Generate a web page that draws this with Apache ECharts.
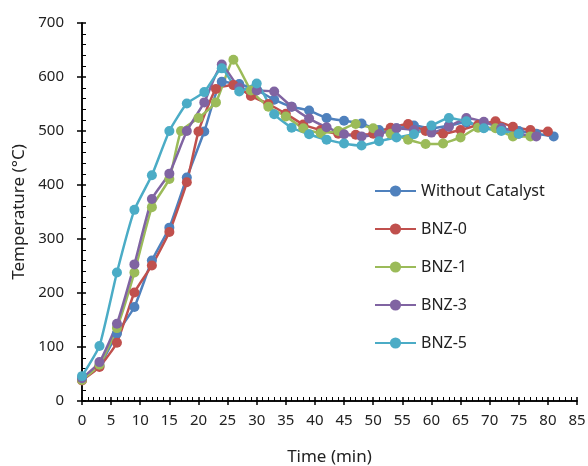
<!DOCTYPE html>
<html>
<head>
<meta charset="utf-8">
<script src="https://cdn.jsdelivr.net/npm/echarts@6/dist/echarts.min.js"></script>
<style>
  html, body { margin: 0; padding: 0; background: #fff; }
  #main { width: 588px; height: 466px; }
</style>
</head>
<body>
<div id="main"></div>
<script>
// time (min) per series
var tWithout = [0, 3, 6, 9, 12, 15, 18, 21, 24, 27, 30, 33, 36, 39, 42, 45, 48, 51, 54, 57, 60, 63, 66, 69, 72, 75, 78, 81];
var vWithout = [40, 65, 125, 174, 260, 321, 414, 499, 591, 587, 576, 558, 545, 538, 524, 519, 514, 502, 505, 510, 505, 510, 516, 506, 505, 500, 495, 490];

var tBNZ0 = [0, 3, 6, 9, 12, 15, 18, 20, 23, 26, 29, 32, 35, 38, 41, 44, 47, 50, 53, 56, 59, 62, 65, 68, 71, 74, 77, 80];
var vBNZ0 = [38, 63, 108, 201, 251, 313, 405, 499, 578, 585, 565, 550, 532, 512, 502, 495, 493, 495, 506, 513, 500, 495, 502, 511, 518, 508, 502, 499];

var tBNZ1 = [0, 3, 6, 9, 12, 15, 17, 20, 23, 26, 29, 32, 35, 38, 41, 44, 47, 50, 53, 56, 59, 62, 65, 68, 71, 74, 77];
var vBNZ1 = [39, 67, 135, 238, 359, 411, 500, 524, 553, 632, 575, 545, 527, 505, 496, 500, 513, 505, 495, 484, 476, 477, 488, 506, 505, 490, 490];

var tBNZ3 = [0, 3, 6, 9, 12, 15, 18, 21, 24, 27, 30, 33, 36, 39, 42, 45, 48, 51, 54, 57, 60, 63, 66, 69, 72, 75, 78];
var vBNZ3 = [42, 72, 143, 253, 374, 421, 500, 553, 623, 580, 575, 573, 545, 523, 507, 494, 490, 494, 505, 502, 497, 508, 524, 517, 505, 495, 490];

var tBNZ5 = [0, 3, 6, 9, 12, 15, 18, 21, 24, 27, 30, 33, 36, 39, 42, 45, 48, 51, 54, 57, 60, 63, 66, 69, 72, 75];
var vBNZ5 = [46, 102, 238, 354, 418, 500, 551, 572, 616, 573, 588, 531, 506, 494, 484, 477, 473, 481, 488, 494, 510, 524, 518, 505, 500, 495];

var names = ['Without Catalyst', 'BNZ-0', 'BNZ-1', 'BNZ-3', 'BNZ-5'];
var colors = ['#4F81BD', '#C0504D', '#9BBB59', '#8064A2', '#4BACC6'];

var font = 'Noto Sans';
var chart = echarts.init(document.getElementById('main'));

function pairs(t, v) {
  return t.map(function (x, i) { return [x, v[i]]; });
}

function makeSeries(name, t, v, color) {
  return {
    name: name,
    type: 'line',
    data: pairs(t, v),
    symbol: 'circle',
    symbolSize: 10,
    smooth: 0.15,
    lineStyle: { color: color, width: 2.5 },
    itemStyle: { color: color },
    emphasis: { disabled: true },
    animation: false
  };
}

var tickStyle = { color: '#000', width: 1.5 };

var option = {
  backgroundColor: '#fff',
  animation: false,
  grid: { left: 82, top: 23, width: 495, height: 378, containLabel: false, outerBoundsMode: 'none' },
  legend: {
    orient: 'vertical',
    left: 369,
    top: 178,
    itemWidth: 41,
    itemHeight: 14,
    itemGap: 22,
    textStyle: { fontFamily: font, fontSize: 16, color: '#222' },
    data: names
  },
  xAxis: [{
    type: 'value',
    min: 0, max: 85, interval: 5,
    position: 'bottom',
    name: 'Time (min)',
    nameLocation: 'middle',
    nameGap: 48,
    nameTextStyle: { fontFamily: font, fontSize: 17, color: '#222' },
    axisLine: { show: true, onZero: false, lineStyle: tickStyle },
    axisTick: { show: true, inside: true, length: 4, lineStyle: tickStyle },
    minorTick: { show: true, splitNumber: 5, length: 4, lineStyle: { color: '#000', width: 1 } },
    splitLine: { show: false },
    axisLabel: { fontFamily: font, fontSize: 15, color: '#222', margin: 12 }
  }, {
    // outward half of the major ticks
    type: 'value',
    min: 0, max: 85, interval: 5,
    position: 'bottom',
    offset: 0,
    axisLine: { show: true, onZero: false, lineStyle: tickStyle },
    axisTick: { show: true, inside: false, length: 4, lineStyle: tickStyle },
    splitLine: { show: false },
    axisLabel: { show: false }
  }],
  yAxis: [{
    type: 'value',
    min: 0, max: 700, interval: 100,
    name: 'Temperature (°C)',
    nameLocation: 'middle',
    nameGap: 52,
    nameTextStyle: { fontFamily: font, fontSize: 17, color: '#222' },
    axisLine: { show: true, onZero: false, lineStyle: tickStyle },
    axisTick: { show: true, inside: true, length: 4, lineStyle: tickStyle },
    minorTick: { show: true, splitNumber: 5, length: 4, lineStyle: { color: '#000', width: 1 } },
    splitLine: { show: false },
    axisLabel: { fontFamily: font, fontSize: 15, color: '#222', margin: 18 }
  }, {
    type: 'value',
    min: 0, max: 700, interval: 100,
    position: 'left',
    offset: 0,
    axisLine: { show: true, onZero: false, lineStyle: tickStyle },
    axisTick: { show: true, inside: false, length: 5, lineStyle: tickStyle },
    splitLine: { show: false },
    axisLabel: { show: false }
  }],
  series: [
    makeSeries(names[0], tWithout, vWithout, colors[0]),
    makeSeries(names[1], tBNZ0, vBNZ0, colors[1]),
    makeSeries(names[2], tBNZ1, vBNZ1, colors[2]),
    makeSeries(names[3], tBNZ3, vBNZ3, colors[3]),
    makeSeries(names[4], tBNZ5, vBNZ5, colors[4])
  ]
};

chart.setOption(option);
</script>
</body>
</html>
